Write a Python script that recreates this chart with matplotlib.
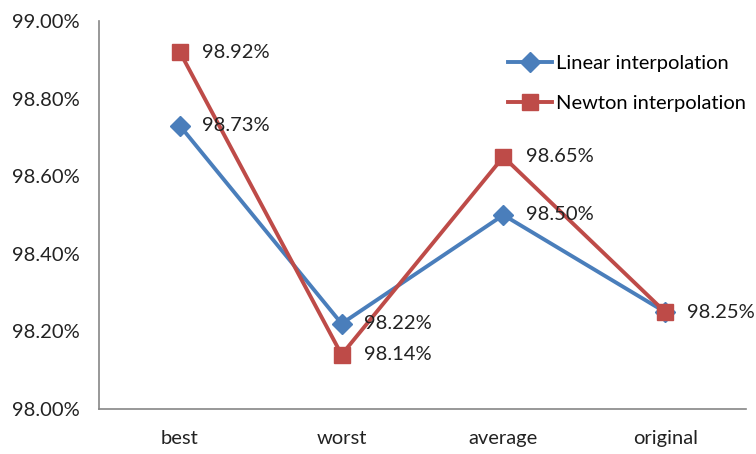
import matplotlib
matplotlib.use("Agg")
import matplotlib.pyplot as plt
from matplotlib.ticker import FuncFormatter

categories = ["best", "worst", "average", "original"]
linear_vals = [98.73, 98.22, 98.50, 98.25]
newton_vals = [98.92, 98.14, 98.65, 98.25]
y_ticks = [98.0, 98.2, 98.4, 98.6, 98.8, 99.0]

plt.rcParams['font.family'] = ['Lato', 'DejaVu Sans']
FS = 14.5

fig = plt.figure(figsize=(7.56, 4.54), dpi=100)
ax = fig.add_axes([99/756, 1 - 409/454, (746-99)/756, (409-21)/454])

blue = "#4A7EBB"
red = "#BE4B48"
x = list(range(len(categories)))
ax.plot(x, linear_vals, color=blue, lw=2.8, marker="D", ms=10,
        mfc=blue, mec=blue, label="Linear interpolation", zorder=3)
ax.plot(x, newton_vals, color=red, lw=2.8, marker="s", ms=11.5,
        mfc=red, mec=red, label="Newton interpolation", zorder=3)

for i in x:
    ax.annotate(f"{linear_vals[i]:.2f}%", (i, linear_vals[i]), xytext=(16, 0),
                textcoords="offset points", ha="left", va="center",
                fontsize=FS, color="#222222")
    if newton_vals[i] != linear_vals[i]:
        ax.annotate(f"{newton_vals[i]:.2f}%", (i, newton_vals[i]), xytext=(16, 0),
                    textcoords="offset points", ha="left", va="center",
                    fontsize=FS, color="#222222")

ax.set_xlim(-0.5, 3.5)
ax.set_ylim(98.0, 99.0)
ax.set_yticks(y_ticks)
ax.yaxis.set_major_formatter(FuncFormatter(lambda v, p: f"{v:.2f}%"))
ax.set_xticks(x)
ax.set_xticklabels(categories)
ax.tick_params(axis="both", length=0, labelsize=FS, colors="#222222")
ax.tick_params(axis="y", pad=14)
ax.tick_params(axis="x", pad=15)
for s in ["top", "right"]:
    ax.spines[s].set_visible(False)
for s in ["left", "bottom"]:
    ax.spines[s].set_color("#868686")
    ax.spines[s].set_linewidth(1.2)

ax.legend(loc="upper left", bbox_to_anchor=(0.632, 0.912), frameon=False,
          fontsize=FS, handlelength=2.2, handletextpad=0.2, labelspacing=1.15,
          borderaxespad=0, borderpad=0)

fig.savefig("out.png", dpi=100)
